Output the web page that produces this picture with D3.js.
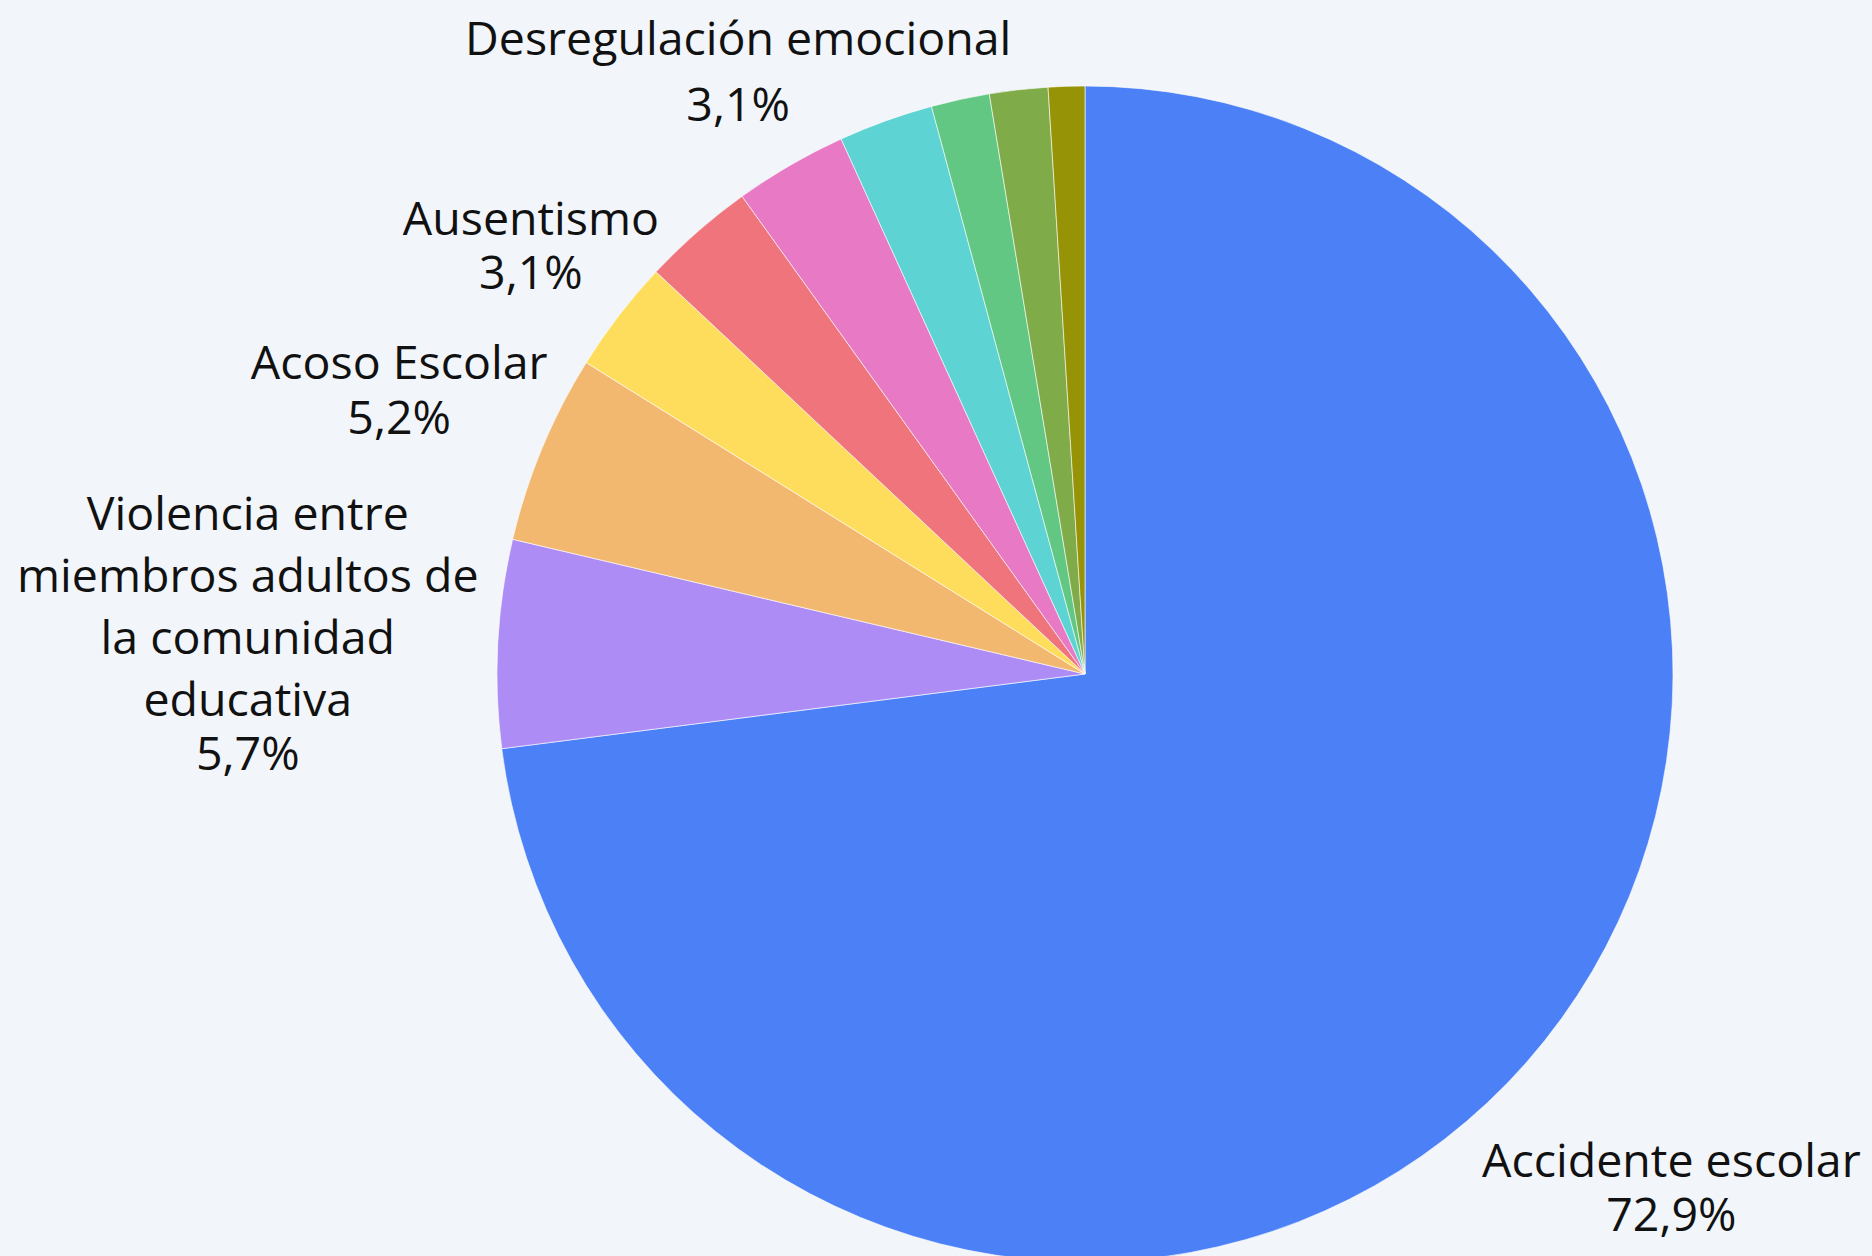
<!DOCTYPE html>
<html>
<head>
<meta charset="utf-8">
<script src="https://cdn.jsdelivr.net/npm/d3@7"></script>
<style>
  html, body { margin: 0; padding: 0; background: #f2f5fa; overflow: hidden; }
  svg { display: block; }
  text { font-family: "Open Sans", "Noto Sans", sans-serif; fill: #111; }
</style>
</head>
<body>
<div id="chart"></div>
<script>
// Data (percent of cases)
const categories = [
  "Accidente escolar",
  "Violencia entre miembros adultos de la comunidad educativa",
  "Acoso Escolar",
  "Ausentismo",
  "Categoría 5",
  "Desregulación emocional",
  "Categoría 7",
  "Categoría 8",
  "Categoría 9",
  "Categoría 10"
];
const values = [72.9, 5.7, 5.2, 3.1, 3.1, 3.1, 2.6, 1.6, 1.6, 1.0];
const colors = ["#4c80f7", "#ae8cf5", "#f2b870", "#ffdd5c", "#ef747c",
                "#e879c4", "#5dd3d3", "#62c783", "#7fab48", "#969306"];

// only these slices carry a label in the reference
const labelLines = {
  "Accidente escolar": ["Accidente escolar"],
  "Violencia entre miembros adultos de la comunidad educativa":
    ["Violencia entre", "miembros adultos de", "la comunidad", "educativa"],
  "Acoso Escolar": ["Acoso Escolar"],
  "Ausentismo": ["Ausentismo"],
  "Desregulación emocional": ["Desregulación emocional"]
};
// nudge of each label block from the slice's outer mid point, and gap to the % line
const labelNudge = {
  "Accidente escolar": [145, 115, 54],
  "Violencia entre miembros adultos de la comunidad educativa": [-250, -114, 54],
  "Acoso Escolar": [-143, -69, 55],
  "Ausentismo": [-88, -80, 54],
  "Desregulación emocional": [-52, -110, 66]
};

const W = 1872, H = 1256;
const cx = 1085, cy = 674, R = 588;
const fontSize = 46.5, lineStep = 62;

const svg = d3.select("#chart").append("svg")
  .attr("width", W).attr("height", H);

const data = categories.map((c, i) => ({ name: c, value: values[i], color: colors[i] }));

const pie = d3.pie().sort(null).value(d => d.value);
const arcs = pie(data);
const arc = d3.arc().innerRadius(0).outerRadius(R);
const edge = d3.arc().innerRadius(R).outerRadius(R);

const g = svg.append("g").attr("transform", `translate(${cx},${cy})`);

g.selectAll("path")
  .data(arcs)
  .enter().append("path")
  .attr("d", arc)
  .attr("fill", d => d.data.color)
  .attr("stroke", "#ffffff")
  .attr("stroke-opacity", 0.6)
  .attr("stroke-width", 1);

const fmt = v => d3.format(".1f")(v).replace(".", ",") + "%";

const labels = g.selectAll("g.label")
  .data(arcs.filter(d => labelLines[d.data.name]))
  .enter().append("g")
  .attr("class", "label")
  .attr("transform", d => {
    const [x, y] = edge.centroid(d);
    const n = labelNudge[d.data.name];
    return `translate(${x + n[0]},${y + n[1]})`;
  });

labels.each(function(d) {
  const lines = labelLines[d.data.name];
  const pctGap = labelNudge[d.data.name][2];
  const t = d3.select(this).append("text")
    .attr("text-anchor", "middle")
    .style("font-size", fontSize + "px");
  lines.forEach((ln, i) => {
    t.append("tspan").attr("x", 0).attr("y", i * lineStep).text(ln);
  });
  t.append("tspan")
    .attr("x", 0)
    .attr("y", (lines.length - 1) * lineStep + pctGap)
    .text(fmt(d.data.value));
});
</script>
</body>
</html>
